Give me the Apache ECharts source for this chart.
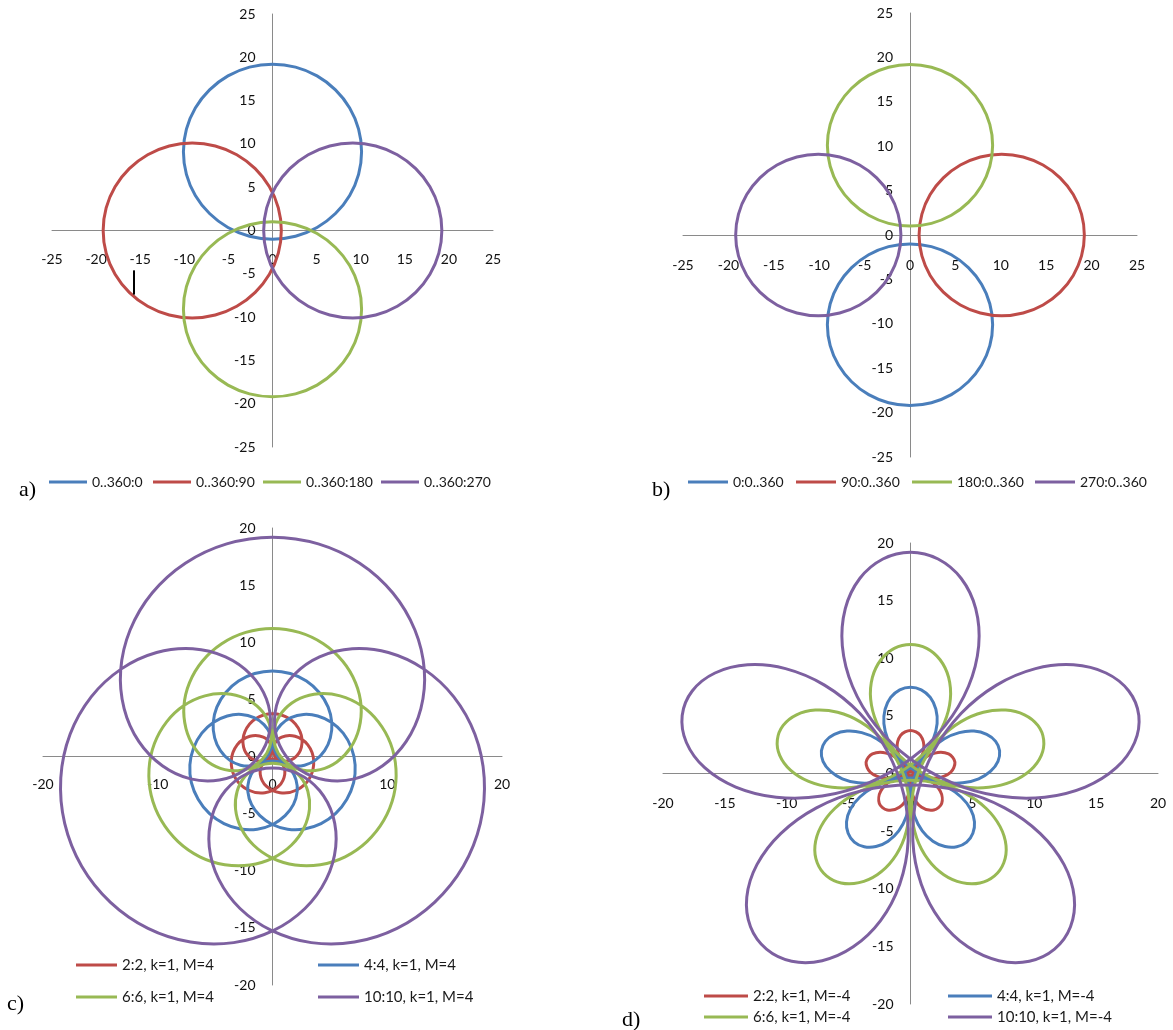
<!DOCTYPE html>
<html><head><meta charset="utf-8">
<script src="https://cdn.jsdelivr.net/npm/echarts/dist/echarts.min.js"></script>
<style>html,body{margin:0;padding:0;background:#fff}#c{width:1173px;height:1030px}</style>
</head><body><div id="c"></div>
<script>
// ---------- legend names ----------
const aNames = ['0..360:0', '0..360:90', '0..360:180', '0..360:270'];
const bNames = ['0:0..360', '90:0..360', '180:0..360', '270:0..360'];
const cNames = ['2:2, k=1, M=4', '4:4, k=1, M=4', '6:6, k=1, M=4', '10:10, k=1, M=4'];
const dNames = ['2:2, k=1, M=-4', '4:4, k=1, M=-4', '6:6, k=1, M=-4', '10:10, k=1, M=-4'];

// ---------- axis ranges / ticks ----------
const abRange = [-25, 25], abStep = 5;
const cdRange = [-20, 20], cXStep = 10, cYStep = 5, dStep = 5;

// ---------- panel a (closed curves, points read along each loop) ----------
const aBlue = [[10.10,9.10],[9.76,11.71],[8.75,14.15],[7.14,16.24],[5.05,17.85],[2.61,18.86],[0,19.20],[-2.61,18.86],[-5.05,17.85],[-7.14,16.24],[-8.75,14.15],[-9.76,11.71],[-10.10,9.10],[-9.76,6.49],[-8.75,4.05],[-7.14,1.96],[-5.05,0.35],[-2.61,-0.66],[0,-1.00],[2.61,-0.66],[5.05,0.35],[7.14,1.96],[8.75,4.05],[9.76,6.49]];
const aRed = [[1.00,0],[0.66,2.61],[-0.35,5.05],[-1.96,7.14],[-4.05,8.75],[-6.49,9.76],[-9.10,10.10],[-11.71,9.76],[-14.15,8.75],[-16.24,7.14],[-17.85,5.05],[-18.86,2.61],[-19.20,0],[-18.86,-2.61],[-17.85,-5.05],[-16.24,-7.14],[-14.15,-8.75],[-11.71,-9.76],[-9.10,-10.10],[-6.49,-9.76],[-4.05,-8.75],[-1.96,-7.14],[-0.35,-5.05],[0.66,-2.61]];
const aGreen = [[10.10,-9.10],[9.76,-6.49],[8.75,-4.05],[7.14,-1.96],[5.05,-0.35],[2.61,0.66],[0,1.00],[-2.61,0.66],[-5.05,-0.35],[-7.14,-1.96],[-8.75,-4.05],[-9.76,-6.49],[-10.10,-9.10],[-9.76,-11.71],[-8.75,-14.15],[-7.14,-16.24],[-5.05,-17.85],[-2.61,-18.86],[0,-19.20],[2.61,-18.86],[5.05,-17.85],[7.14,-16.24],[8.75,-14.15],[9.76,-11.71]];
const aPurple = [[19.20,0],[18.86,2.61],[17.85,5.05],[16.24,7.14],[14.15,8.75],[11.71,9.76],[9.10,10.10],[6.49,9.76],[4.05,8.75],[1.96,7.14],[0.35,5.05],[-0.66,2.61],[-1.00,0],[-0.66,-2.61],[0.35,-5.05],[1.96,-7.14],[4.05,-8.75],[6.49,-9.76],[9.10,-10.10],[11.71,-9.76],[14.15,-8.75],[16.24,-7.14],[17.85,-5.05],[18.86,-2.61]];
const aMark = [[-15.7,-4.6],[-15.7,-7.4]];

// ---------- panel b ----------
const bBlue = [[9.10,-10.10],[8.79,-7.74],[7.88,-5.55],[6.43,-3.67],[4.55,-2.22],[2.36,-1.31],[0,-1.00],[-2.36,-1.31],[-4.55,-2.22],[-6.43,-3.67],[-7.88,-5.55],[-8.79,-7.74],[-9.10,-10.10],[-8.79,-12.46],[-7.88,-14.65],[-6.43,-16.53],[-4.55,-17.98],[-2.36,-18.89],[0,-19.20],[2.36,-18.89],[4.55,-17.98],[6.43,-16.53],[7.88,-14.65],[8.79,-12.46]];
const bRed = [[19.20,0],[18.89,2.36],[17.98,4.55],[16.53,6.43],[14.65,7.88],[12.46,8.79],[10.10,9.10],[7.74,8.79],[5.55,7.88],[3.67,6.43],[2.22,4.55],[1.31,2.36],[1.00,0],[1.31,-2.36],[2.22,-4.55],[3.67,-6.43],[5.55,-7.88],[7.74,-8.79],[10.10,-9.10],[12.46,-8.79],[14.65,-7.88],[16.53,-6.43],[17.98,-4.55],[18.89,-2.36]];
const bGreen = [[9.10,10.10],[8.79,12.46],[7.88,14.65],[6.43,16.53],[4.55,17.98],[2.36,18.89],[0,19.20],[-2.36,18.89],[-4.55,17.98],[-6.43,16.53],[-7.88,14.65],[-8.79,12.46],[-9.10,10.10],[-8.79,7.74],[-7.88,5.55],[-6.43,3.67],[-4.55,2.22],[-2.36,1.31],[0,1.00],[2.36,1.31],[4.55,2.22],[6.43,3.67],[7.88,5.55],[8.79,7.74]];
const bPurple = [[-1.00,0],[-1.31,2.36],[-2.22,4.55],[-3.67,6.43],[-5.55,7.88],[-7.74,8.79],[-10.10,9.10],[-12.46,8.79],[-14.65,7.88],[-16.53,6.43],[-17.98,4.55],[-18.89,2.36],[-19.20,0],[-18.89,-2.36],[-17.98,-4.55],[-16.53,-6.43],[-14.65,-7.88],[-12.46,-8.79],[-10.10,-9.10],[-7.74,-8.79],[-5.55,-7.88],[-3.67,-6.43],[-2.22,-4.55],[-1.31,-2.36]];

// ---------- panel c ----------
const cRed = [[0,-0.20],[-0.80,-0.58],[-1.07,-1.54],[-0.54,-2.60],[0.66,-3.17],[2.12,-2.93],[3.24,-1.88],[3.59,-0.36],[3.08,1.02],[1.97,1.77],[0.80,1.70],[0.11,0.98],[0.18,0.10],[0.90,-0.39],[1.88,-0.15],[2.52,0.82],[2.41,2.16],[1.48,3.30],[0,3.74],
[-1.48,3.30],[-2.41,2.16],[-2.52,0.82],[-1.88,-0.15],[-0.90,-0.39],[-0.18,0.10],[-0.11,0.98],[-0.80,1.70],[-1.97,1.77],[-3.08,1.02],[-3.59,-0.36],[-3.24,-1.88],[-2.12,-2.93],[-0.66,-3.17],[0.54,-2.60],[1.07,-1.54],[0.80,-0.58]];
const cBlue = [[0,-0.39],[-0.87,-0.58],[-1.60,-1.16],[-2.05,-2.04],[-2.15,-3.08],[-1.83,-4.19],[-1.10,-5.18],[-0.02,-5.95],[1.32,-6.36],[2.79,-6.34],[4.23,-5.87],[5.51,-4.98],[6.48,-3.74],[7.07,-2.29],[7.20,-0.73],[6.88,0.75],[6.16,2.04],[5.13,3.00],[3.94,3.55],[2.71,3.68],[1.60,3.40],[0.74,2.79],[0.20,1.97],[0.07,1.05],[0.34,0.20],[0.95,-0.46],[1.81,-0.81],[2.79,-0.76],[3.74,-0.32],[4.54,0.51],[5.04,1.64],[5.17,2.95],[4.85,4.32],[4.09,5.58],[2.96,6.60],[1.55,7.26],[0,7.49],
[-1.55,7.26],[-2.96,6.60],[-4.09,5.58],[-4.85,4.32],[-5.17,2.95],[-5.04,1.64],[-4.54,0.51],[-3.74,-0.32],[-2.79,-0.76],[-1.81,-0.81],[-0.95,-0.46],[-0.34,0.20],[-0.07,1.05],[-0.20,1.97],[-0.74,2.79],[-1.60,3.40],[-2.71,3.68],[-3.94,3.55],[-5.13,3.00],[-6.16,2.04],[-6.88,0.75],[-7.20,-0.73],[-7.07,-2.29],[-6.48,-3.74],[-5.51,-4.98],[-4.23,-5.87],[-2.79,-6.34],[-1.32,-6.36],[0.02,-5.95],[1.10,-5.18],[1.83,-4.19],[2.15,-3.08],[2.05,-2.04],[1.60,-1.16],[0.87,-0.58]];
const cGreen = [[0,-0.58],[-1.31,-0.88],[-2.39,-1.73],[-3.08,-3.04],[-3.22,-4.61],[-2.74,-6.26],[-1.66,-7.75],[-0.03,-8.89],[1.97,-9.50],[4.16,-9.47],[6.33,-8.78],[8.23,-7.45],[9.70,-5.59],[10.57,-3.41],[10.76,-1.09],[10.29,1.13],[9.21,3.05],[7.69,4.48],[5.89,5.31],[4.05,5.50],[2.39,5.09],[1.09,4.17],[0.30,2.93],[0.11,1.57],[0.50,0.29],[1.41,-0.69],[2.69,-1.20],[4.16,-1.15],[5.61,-0.48],[6.79,0.75],[7.54,2.45],[7.72,4.42],[7.24,6.45],[6.12,8.34],[4.43,9.87],[2.33,10.86],[0,11.20],
[-2.33,10.86],[-4.43,9.87],[-6.12,8.34],[-7.24,6.45],[-7.72,4.42],[-7.54,2.45],[-6.79,0.75],[-5.61,-0.48],[-4.16,-1.15],[-2.69,-1.20],[-1.41,-0.69],[-0.50,0.29],[-0.11,1.57],[-0.30,2.93],[-1.09,4.17],[-2.39,5.09],[-4.05,5.50],[-5.89,5.31],[-7.69,4.48],[-9.21,3.05],[-10.29,1.13],[-10.76,-1.09],[-10.57,-3.41],[-9.70,-5.59],[-8.23,-7.45],[-6.33,-8.78],[-4.16,-9.47],[-1.97,-9.50],[0.03,-8.89],[1.66,-7.75],[2.74,-6.26],[3.22,-4.61],[3.08,-3.04],[2.39,-1.73],[1.31,-0.88]];
const cPurple = [[0,-1.00],[-2.23,-1.51],[-4.10,-2.98],[-5.27,-5.21],[-5.51,-7.91],[-4.69,-10.73],[-2.83,-13.30],[-0.06,-15.24],[3.38,-16.29],[7.14,-16.24],[10.85,-15.04],[14.12,-12.76],[16.63,-9.60],[18.11,-5.85],[18.45,-1.87],[17.64,1.94],[15.80,5.22],[13.17,7.67],[10.10,9.10],[6.95,9.43],[4.10,8.72],[1.88,7.16],[0.53,5.03],[0.19,2.69],[0.87,0.50],[2.42,-1.18],[4.63,-2.06],[7.14,-1.96],[9.60,-0.81],[11.64,1.30],[12.93,4.20],[13.23,7.57],[12.41,11.07],[10.49,14.31],[7.60,16.92],[3.99,18.61],[0,19.20],
[-3.99,18.61],[-7.60,16.92],[-10.49,14.31],[-12.41,11.07],[-13.23,7.57],[-12.93,4.20],[-11.64,1.30],[-9.60,-0.81],[-7.14,-1.96],[-4.63,-2.06],[-2.42,-1.18],[-0.87,0.50],[-0.19,2.69],[-0.53,5.03],[-1.88,7.16],[-4.10,8.72],[-6.95,9.43],[-10.10,9.10],[-13.17,7.67],[-15.80,5.22],[-17.64,1.94],[-18.45,-1.87],[-18.11,-5.85],[-16.63,-9.60],[-14.12,-12.76],[-10.85,-15.04],[-7.14,-16.24],[-3.38,-16.29],[0.06,-15.24],[2.83,-13.30],[4.69,-10.73],[5.51,-7.91],[5.27,-5.21],[4.10,-2.98],[2.23,-1.51]];

// ---------- panel d ----------
const dRed = [[0,-0.20],[1.48,-0.58],[2.41,-1.54],[2.52,-2.60],[1.88,-3.17],[0.90,-2.93],[0.18,-1.88],[0.11,-0.36],[0.80,1.02],[1.97,1.77],[3.08,1.70],[3.59,0.98],[3.24,0.10],[2.12,-0.39],[0.66,-0.15],[-0.54,0.82],[-1.07,2.16],[-0.80,3.30],[0,3.74],
[0.80,3.30],[1.07,2.16],[0.54,0.82],[-0.66,-0.15],[-2.12,-0.39],[-3.24,0.10],[-3.59,0.98],[-3.08,1.70],[-1.97,1.77],[-0.80,1.02],[-0.11,-0.36],[-0.18,-1.88],[-0.90,-2.93],[-1.88,-3.17],[-2.52,-2.60],[-2.41,-1.54],[-1.48,-0.58]];
const dBlue = [[0,-0.39],[1.55,-0.58],[2.96,-1.16],[4.09,-2.04],[4.85,-3.08],[5.17,-4.19],[5.04,-5.18],[4.54,-5.95],[3.74,-6.36],[2.79,-6.34],[1.81,-5.87],[0.95,-4.98],[0.34,-3.74],[0.07,-2.29],[0.20,-0.73],[0.74,0.75],[1.60,2.04],[2.71,3.00],[3.94,3.55],[5.13,3.68],[6.16,3.40],[6.88,2.79],[7.20,1.97],[7.07,1.05],[6.48,0.20],[5.51,-0.46],[4.23,-0.81],[2.79,-0.76],[1.32,-0.32],[-0.02,0.51],[-1.10,1.64],[-1.83,2.95],[-2.15,4.32],[-2.05,5.58],[-1.60,6.60],[-0.87,7.26],[0,7.49],
[0.87,7.26],[1.60,6.60],[2.05,5.58],[2.15,4.32],[1.83,2.95],[1.10,1.64],[0.02,0.51],[-1.32,-0.32],[-2.79,-0.76],[-4.23,-0.81],[-5.51,-0.46],[-6.48,0.20],[-7.07,1.05],[-7.20,1.97],[-6.88,2.79],[-6.16,3.40],[-5.13,3.68],[-3.94,3.55],[-2.71,3.00],[-1.60,2.04],[-0.74,0.75],[-0.20,-0.73],[-0.07,-2.29],[-0.34,-3.74],[-0.95,-4.98],[-1.81,-5.87],[-2.79,-6.34],[-3.74,-6.36],[-4.54,-5.95],[-5.04,-5.18],[-5.17,-4.19],[-4.85,-3.08],[-4.09,-2.04],[-2.96,-1.16],[-1.55,-0.58]];
const dGreen = [[0,-0.58],[2.33,-0.88],[4.43,-1.73],[6.12,-3.04],[7.24,-4.61],[7.72,-6.26],[7.54,-7.75],[6.79,-8.89],[5.61,-9.50],[4.16,-9.47],[2.69,-8.78],[1.41,-7.45],[0.50,-5.59],[0.11,-3.41],[0.30,-1.09],[1.09,1.13],[2.39,3.05],[4.05,4.48],[5.89,5.31],[7.69,5.50],[9.21,5.09],[10.29,4.17],[10.76,2.93],[10.57,1.57],[9.70,0.29],[8.23,-0.69],[6.33,-1.20],[4.16,-1.15],[1.97,-0.48],[-0.03,0.75],[-1.66,2.45],[-2.74,4.42],[-3.22,6.45],[-3.08,8.34],[-2.39,9.87],[-1.31,10.86],[0,11.20],
[1.31,10.86],[2.39,9.87],[3.08,8.34],[3.22,6.45],[2.74,4.42],[1.66,2.45],[0.03,0.75],[-1.97,-0.48],[-4.16,-1.15],[-6.33,-1.20],[-8.23,-0.69],[-9.70,0.29],[-10.57,1.57],[-10.76,2.93],[-10.29,4.17],[-9.21,5.09],[-7.69,5.50],[-5.89,5.31],[-4.05,4.48],[-2.39,3.05],[-1.09,1.13],[-0.30,-1.09],[-0.11,-3.41],[-0.50,-5.59],[-1.41,-7.45],[-2.69,-8.78],[-4.16,-9.47],[-5.61,-9.50],[-6.79,-8.89],[-7.54,-7.75],[-7.72,-6.26],[-7.24,-4.61],[-6.12,-3.04],[-4.43,-1.73],[-2.33,-0.88]];
const dPurple = [[0,-1.00],[3.99,-1.51],[7.60,-2.98],[10.49,-5.21],[12.41,-7.91],[13.23,-10.73],[12.93,-13.30],[11.64,-15.24],[9.60,-16.29],[7.14,-16.24],[4.63,-15.04],[2.42,-12.76],[0.87,-9.60],[0.19,-5.85],[0.53,-1.87],[1.88,1.94],[4.10,5.22],[6.95,7.67],[10.10,9.10],[13.17,9.43],[15.80,8.72],[17.64,7.16],[18.45,5.03],[18.11,2.69],[16.63,0.50],[14.12,-1.18],[10.85,-2.06],[7.14,-1.96],[3.38,-0.81],[-0.06,1.30],[-2.83,4.20],[-4.69,7.57],[-5.51,11.07],[-5.27,14.31],[-4.10,16.92],[-2.23,18.61],[0,19.20],
[2.23,18.61],[4.10,16.92],[5.27,14.31],[5.51,11.07],[4.69,7.57],[2.83,4.20],[0.06,1.30],[-3.38,-0.81],[-7.14,-1.96],[-10.85,-2.06],[-14.12,-1.18],[-16.63,0.50],[-18.11,2.69],[-18.45,5.03],[-17.64,7.16],[-15.80,8.72],[-13.17,9.43],[-10.10,9.10],[-6.95,7.67],[-4.10,5.22],[-1.88,1.94],[-0.53,-1.87],[-0.19,-5.85],[-0.87,-9.60],[-2.42,-12.76],[-4.63,-15.04],[-7.14,-16.24],[-9.60,-16.29],[-11.64,-15.24],[-12.93,-13.30],[-13.23,-10.73],[-12.41,-7.91],[-10.49,-5.21],[-7.60,-2.98],[-3.99,-1.51]];

// ---------- rendering ----------
const COL = {blue:'#4A7EBB', red:'#BE4B48', green:'#98B954', purple:'#7D60A0'};
const FONT = 'Lato, "Liberation Sans", sans-serif';
const AXC = '#8a8a8a';
const GRIDS = [
  {left: 52, top: 14, width: 441, height: 433},
  {left: 683, top: 13, width: 454, height: 444},
  {left: 43, top: 528, width: 459, height: 457},
  {left: 663, top: 543, width: 495, height: 461}
];

// axis line placed through the other axis' zero (middle of each symmetric grid)
function xAx(g, range, step, margin) {
  const gr = GRIDS[g];
  return {
    gridIndex: g, type: 'value', min: range[0], max: range[1], interval: step,
    position: 'bottom', offset: -gr.height / 2,
    axisLine: {onZero: false, lineStyle: {color: AXC, width: 1}},
    axisTick: {show: false}, splitLine: {show: false},
    axisLabel: {margin: margin, fontSize: 14, fontFamily: FONT, color: '#111',
                showMinLabel: true, showMaxLabel: true, hideOverlap: false}
  };
}
function yAx(g, range, step, margin) {
  const gr = GRIDS[g];
  return {
    gridIndex: g, type: 'value', min: range[0], max: range[1], interval: step,
    position: 'left', offset: -gr.width / 2,
    axisLine: {onZero: false, lineStyle: {color: AXC, width: 1}},
    axisTick: {show: false}, splitLine: {show: false},
    axisLabel: {margin: margin, fontSize: 14, fontFamily: FONT, color: '#111',
                showMinLabel: true, showMaxLabel: true, hideOverlap: false}
  };
}
// closed smooth curve drawn through the cartesian scales of its grid
function curve(name, data, color, idx) {
  return {
    name, type: 'custom', coordinateSystem: 'cartesian2d', xAxisIndex: idx, yAxisIndex: idx,
    data: data, encode: {x: 0, y: 1}, silent: true, animation: false, clip: false,
    itemStyle: {color: color},
    renderItem: function (params, api) {
      if (params.dataIndex !== 0) return null;
      const pts = data.map(function (p) { return api.coord(p); });
      return {type: 'polygon', shape: {points: pts, smooth: 0.33},
              style: {fill: 'none', stroke: color, lineWidth: 3}};
    }
  };
}
function lg(name, left, top, w, fs) {
  return {data: [name], left, top, itemWidth: w, itemHeight: 3, icon: 'rect',
          padding: 0, itemGap: 0, selectedMode: false,
          itemStyle: {borderWidth: 0},
          textStyle: {fontSize: fs, fontFamily: FONT, color: '#1a1a1a', lineHeight: 16}};
}

const option = {
  backgroundColor: '#fff',
  animation: false,
  grid: GRIDS,
  xAxis: [
    xAx(0, abRange, abStep, 22),
    xAx(1, abRange, abStep, 23),
    xAx(2, cdRange, cXStep, 21),
    xAx(3, cdRange, dStep, 23)
  ],
  yAxis: [
    yAx(0, abRange, abStep, 17),
    yAx(1, abRange, abStep, 17),
    yAx(2, cdRange, cYStep, 17),
    yAx(3, cdRange, dStep, 17)
  ],
  legend: [
    lg(aNames[0], 49, 474, 38, 14), lg(aNames[1], 153, 474, 38, 14),
    lg(aNames[2], 263, 474, 38, 14), lg(aNames[3], 381, 474, 38, 14),
    lg(bNames[0], 688, 474, 40, 14), lg(bNames[1], 796, 474, 40, 14),
    lg(bNames[2], 912, 474, 40, 14), lg(bNames[3], 1035, 474, 40, 14),
    lg(cNames[0], 76, 957, 41, 15), lg(cNames[1], 318, 957, 41, 15),
    lg(cNames[2], 76, 989, 41, 15), lg(cNames[3], 318, 989, 41, 15),
    lg(dNames[0], 704, 988, 44, 15), lg(dNames[1], 948, 988, 44, 15),
    lg(dNames[2], 704, 1009, 44, 15), lg(dNames[3], 948, 1009, 44, 15)
  ],
  graphic: [
    {type: 'text', x: 19, y: 490, style: {text: 'a)', font: '22px "Liberation Serif"', fill: '#000', verticalAlign: 'middle'}},
    {type: 'text', x: 652, y: 490, style: {text: 'b)', font: '22px "Liberation Serif"', fill: '#000', verticalAlign: 'middle'}},
    {type: 'text', x: 7, y: 1004, style: {text: 'c)', font: '22px "Liberation Serif"', fill: '#000', verticalAlign: 'middle'}},
    {type: 'text', x: 622, y: 1020, style: {text: 'd)', font: '22px "Liberation Serif"', fill: '#000', verticalAlign: 'middle'}}
  ],
  series: [
    curve(aNames[0], aBlue, COL.blue, 0), curve(aNames[1], aRed, COL.red, 0),
    curve(aNames[2], aGreen, COL.green, 0), curve(aNames[3], aPurple, COL.purple, 0),
    {name: 'mark', type: 'line', data: aMark, xAxisIndex: 0, yAxisIndex: 0, showSymbol: false,
     symbol: 'none', silent: true, animation: false, lineStyle: {color: '#000', width: 2}},
    curve(bNames[0], bBlue, COL.blue, 1), curve(bNames[1], bRed, COL.red, 1),
    curve(bNames[2], bGreen, COL.green, 1), curve(bNames[3], bPurple, COL.purple, 1),
    curve(cNames[0], cRed, COL.red, 2), curve(cNames[1], cBlue, COL.blue, 2),
    curve(cNames[2], cGreen, COL.green, 2), curve(cNames[3], cPurple, COL.purple, 2),
    curve(dNames[0], dRed, COL.red, 3), curve(dNames[1], dBlue, COL.blue, 3),
    curve(dNames[2], dGreen, COL.green, 3), curve(dNames[3], dPurple, COL.purple, 3)
  ]
};
const chart = echarts.init(document.getElementById('c'));
chart.setOption(option);
</script></body></html>
